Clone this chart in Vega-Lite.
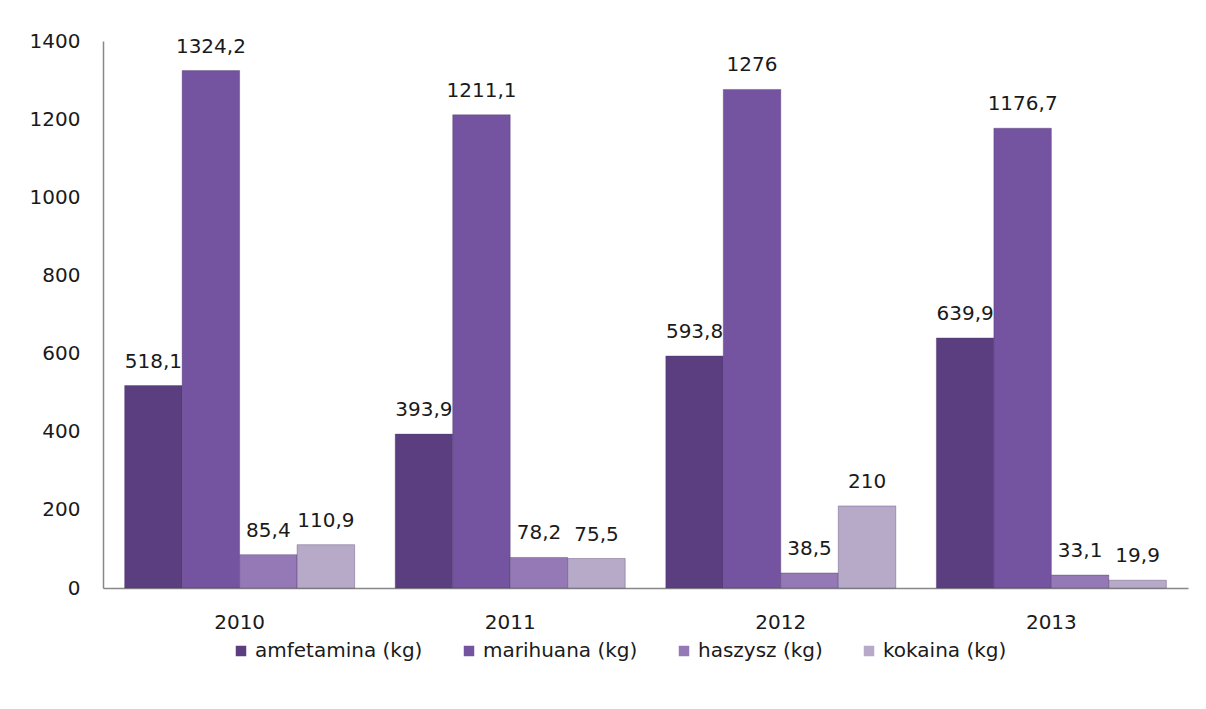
{
  "$schema": "https://vega.github.io/schema/vega-lite/v6.json",
  "width": 1085,
  "height": 547,
  "autosize": {"type": "none"},
  "padding": {"left": 103, "top": 41, "right": 18, "bottom": 121},
  "background": "white",
  "config": {
    "locale": {"number": {"decimal": ",", "thousands": "", "grouping": [3], "currency": ["", ""]}},
    "view": {"stroke": null},
    "font": "DejaVu Sans"
  },
  "data": {
    "values": [
      {"year": "2010", "drug": "amfetamina (kg)", "value": 518.1},
      {"year": "2010", "drug": "marihuana (kg)", "value": 1324.2},
      {"year": "2010", "drug": "haszysz (kg)", "value": 85.4},
      {"year": "2010", "drug": "kokaina (kg)", "value": 110.9},
      {"year": "2011", "drug": "amfetamina (kg)", "value": 393.9},
      {"year": "2011", "drug": "marihuana (kg)", "value": 1211.1},
      {"year": "2011", "drug": "haszysz (kg)", "value": 78.2},
      {"year": "2011", "drug": "kokaina (kg)", "value": 75.5},
      {"year": "2012", "drug": "amfetamina (kg)", "value": 593.8},
      {"year": "2012", "drug": "marihuana (kg)", "value": 1276},
      {"year": "2012", "drug": "haszysz (kg)", "value": 38.5},
      {"year": "2012", "drug": "kokaina (kg)", "value": 210},
      {"year": "2013", "drug": "amfetamina (kg)", "value": 639.9},
      {"year": "2013", "drug": "marihuana (kg)", "value": 1176.7},
      {"year": "2013", "drug": "haszysz (kg)", "value": 33.1},
      {"year": "2013", "drug": "kokaina (kg)", "value": 19.9}
    ]
  },
  "encoding": {
    "x": {
      "field": "year", "type": "nominal",
      "scale": {"paddingInner": 0.15, "paddingOuter": 0.08},
      "axis": {
        "title": null, "labelAngle": 0, "ticks": false,
        "domainColor": "#888888", "domainWidth": 1.5,
        "labelFont": "DejaVu Sans", "labelFontSize": 20, "labelColor": "#1a1a1a",
        "labelPadding": 24
      }
    },
    "xOffset": {
      "field": "drug", "type": "nominal",
      "sort": ["amfetamina (kg)", "marihuana (kg)", "haszysz (kg)", "kokaina (kg)"],
      "scale": {"paddingInner": 0, "paddingOuter": 0}
    },
    "y": {
      "field": "value", "type": "quantitative",
      "scale": {"domain": [0, 1400]},
      "axis": {
        "title": null, "ticks": false, "grid": false,
        "values": [0, 200, 400, 600, 800, 1000, 1200, 1400],
        "domainColor": "#888888", "domainWidth": 1.5,
        "labelFont": "DejaVu Sans", "labelFontSize": 20, "labelColor": "#1a1a1a",
        "labelPadding": 23, "format": "d"
      }
    }
  },
  "layer": [
    {
      "mark": {"type": "bar", "stroke": "#4a3368", "strokeWidth": 0.6, "strokeOpacity": 0.6},
      "encoding": {
        "color": {
          "field": "drug", "type": "nominal",
          "scale": {
            "domain": ["amfetamina (kg)", "marihuana (kg)", "haszysz (kg)", "kokaina (kg)"],
            "range": ["#5a3e7f", "#7453a0", "#9479b6", "#b6aac8"]
          },
          "legend": {
            "title": null, "orient": "none", "direction": "horizontal", "columns": 4,
            "legendX": 128, "legendY": 600,
            "symbolType": "square", "symbolSize": 110, "symbolStrokeWidth": 0, "symbolOpacity": 1,
            "labelFont": "DejaVu Sans", "labelFontSize": 20, "labelColor": "#1a1a1a",
            "labelOffset": 4, "columnPadding": 36, "labelLimit": 400
          }
        }
      }
    },
    {
      "mark": {"type": "text", "baseline": "alphabetic", "dy": -18, "fontSize": 20, "font": "DejaVu Sans", "color": "#1a1a1a"},
      "encoding": {
        "text": {"field": "value", "type": "quantitative", "format": ".1~f"}
      }
    }
  ]
}
